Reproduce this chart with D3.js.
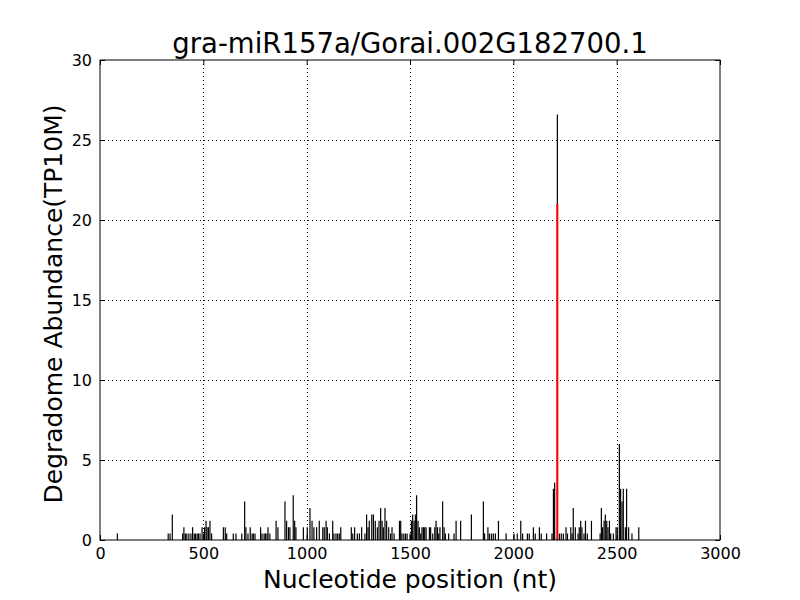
<!DOCTYPE html>
<html>
<head>
<meta charset="utf-8">
<script src="https://cdn.jsdelivr.net/npm/d3@7"></script>
<style>
  html, body { margin: 0; padding: 0; background: #fff; }
  text { font-family: "DejaVu Sans", sans-serif; }
</style>
</head>
<body>
<svg id="chart" width="800" height="600"></svg>
<script>
const titleText = "gra-miR157a/Gorai.002G182700.1";
const xLabel = "Nucleotide position (nt)";
const yLabel = "Degradome Abundance(TP10M)";
const xTicks = [0, 500, 1000, 1500, 2000, 2500, 3000];
const yTicks = [0, 5, 10, 15, 20, 25, 30];

const positions = [84,
  330, 339, 350,
  400, 406, 413, 420, 430, 440, 448, 456, 462, 470, 476, 484, 494, 502, 506, 513, 518, 525, 532, 540,
  597, 606, 613, 645, 658,
  686, 700, 706, 716, 727, 736, 742, 750, 777, 784, 794, 800, 808, 813, 822, 852, 861, 895, 903, 912, 919, 935, 942, 948, 984, 1003, 1016, 1026, 1035, 1048, 1061,
  1078, 1085, 1094, 1100, 1110, 1126, 1132, 1142, 1150, 1158, 1165, 1216, 1223, 1232, 1245, 1255, 1266, 1282, 1290, 1297, 1303, 1315, 1323, 1332, 1342, 1350, 1358, 1365, 1371, 1379, 1387, 1397, 1406, 1413, 1423, 1449,
  1455, 1461, 1470, 1478, 1486, 1500, 1507, 1513, 1520, 1526, 1532, 1539, 1545, 1552, 1558, 1565, 1571, 1578, 1594, 1600, 1610, 1620, 1626, 1633, 1639, 1645, 1658, 1665, 1671, 1687, 1713, 1723, 1745, 1797,
  1855, 1861, 1877, 1884, 1894, 1903, 1913, 1928, 1965, 2003, 2019, 2036, 2045, 2068, 2077, 2097, 2106, 2126, 2135, 2161, 2187, 2194, 2200,
  2213,
  2223, 2232, 2242, 2255, 2262, 2278, 2284, 2290, 2300, 2313, 2319, 2326, 2332, 2342, 2349, 2358, 2378, 2420, 2426, 2432, 2439, 2445, 2452, 2458, 2465, 2471, 2484, 2497, 2503, 2513, 2519, 2526, 2532, 2542, 2548, 2558, 2574, 2607];

const abundance = [0.4,
  0.4, 0.4, 1.6,
  0.4, 0.8, 0.4, 0.4, 0.4, 0.4, 0.8, 0.4, 0.4, 0.4, 0.4, 0.4, 0.8, 0.4, 0.8, 1.2, 0.8, 0.8, 1.2, 0.4,
  0.8, 0.8, 0.4, 0.4, 0.4,
  0.4, 2.4, 0.8, 0.4, 0.8, 0.4, 0.4, 0.4, 0.8, 0.4, 0.4, 0.4, 0.4, 0.8, 0.4, 1.2, 0.8, 2.4, 1.2, 0.8, 0.8, 2.8, 1.2, 0.8, 0.8, 0.8, 2.0, 1.2, 0.8, 0.8, 1.2,
  0.8, 0.8, 1.2, 0.8, 0.4, 1.2, 0.4, 0.4, 0.4, 0.4, 0.8, 0.8, 0.4, 0.8, 0.4, 0.4, 0.8, 0.4, 1.6, 0.8, 1.2, 1.6, 1.6, 1.2, 0.8, 1.2, 2.0, 1.2, 0.8, 2.0, 1.2, 0.8, 0.4, 0.8, 0.4, 1.2,
  1.2, 0.4, 0.4, 0.4, 0.4, 0.4, 1.2, 1.6, 1.2, 1.6, 2.8, 1.2, 0.8, 0.4, 0.8, 0.8, 0.8, 0.8, 0.8, 0.8, 0.4, 0.8, 1.2, 0.8, 0.4, 0.8, 2.4, 0.8, 0.4, 0.4, 0.4, 1.2, 1.2, 1.6,
  2.4, 0.4, 0.8, 0.4, 0.4, 0.4, 0.4, 1.2, 0.4, 0.4, 0.4, 1.2, 0.4, 0.4, 0.4, 0.8, 0.4, 0.8, 0.4, 0.4, 0.4, 3.2, 3.6,
  26.6,
  0.4, 0.4, 0.4, 0.8, 0.4, 0.8, 0.4, 2.0, 0.8, 0.4, 0.8, 1.2, 0.8, 0.4, 1.2, 0.4, 1.2, 0.4, 2.0, 0.8, 1.2, 1.6, 1.2, 0.8, 1.2, 0.4, 0.4, 0.8, 0.8, 6.0, 3.2, 2.4, 3.2, 0.8, 3.2, 0.8, 0.4, 0.8];

const cleavagePos = [2213];
const cleavageVal = [21.0];

const svg = d3.select("#chart");
const margin = {left: 100, right: 80, top: 60, bottom: 60};
const W = 800, H = 600;
const x = d3.scaleLinear().domain([0, 3000]).range([margin.left, W - margin.right]);
const y = d3.scaleLinear().domain([0, 30]).range([H - margin.bottom, margin.top]);

// grid
const grid = svg.append("g");
grid.selectAll(".vg").data(xTicks.slice(1, -1)).enter().append("line")
  .attr("x1", d => Math.round(x(d)) + 0.5).attr("x2", d => Math.round(x(d)) + 0.5)
  .attr("y1", y(30)).attr("y2", y(0))
  .attr("stroke", "#000").attr("stroke-width", 1).attr("stroke-dasharray", "1,3");
grid.selectAll(".hg").data(yTicks.slice(1, -1)).enter().append("line")
  .attr("y1", d => Math.round(y(d)) + 0.5).attr("y2", d => Math.round(y(d)) + 0.5)
  .attr("x1", x(0)).attr("x2", x(3000))
  .attr("stroke", "#000").attr("stroke-width", 1).attr("stroke-dasharray", "1,3");

// bars
const data = positions.map((p, i) => ({p, v: abundance[i]}));
svg.append("g").selectAll("line").data(data).enter().append("line")
  .attr("x1", d => x(d.p)).attr("x2", d => x(d.p))
  .attr("y1", y(0)).attr("y2", d => y(d.v))
  .attr("stroke", "#000").attr("stroke-width", 1.2);

svg.append("g").selectAll("line").data(cleavagePos.map((p, i) => ({p, v: cleavageVal[i]}))).enter().append("line")
  .attr("x1", d => x(d.p)).attr("x2", d => x(d.p))
  .attr("y1", y(0)).attr("y2", d => y(d.v))
  .attr("stroke", "#ff0000").attr("stroke-width", 2);

// axes with inward ticks
const axB = svg.append("g").attr("transform", `translate(0,${y(0)})`)
  .call(d3.axisBottom(x).tickValues(xTicks).tickFormat(d3.format("d")).tickSizeInner(-5).tickSizeOuter(0).tickPadding(8));
const axT = svg.append("g").attr("transform", `translate(0,${y(30)})`)
  .call(d3.axisTop(x).tickValues(xTicks).tickFormat("").tickSizeInner(-5).tickSizeOuter(0));
const axL = svg.append("g").attr("transform", `translate(${x(0)},0)`)
  .call(d3.axisLeft(y).tickValues(yTicks).tickSizeInner(-5).tickSizeOuter(0).tickPadding(8));
const axR = svg.append("g").attr("transform", `translate(${x(3000)},0)`)
  .call(d3.axisRight(y).tickValues(yTicks).tickFormat("").tickSizeInner(-5).tickSizeOuter(0));
[axB, axT, axL, axR].forEach(g => {
  g.select(".domain").remove();
  g.selectAll("line").attr("stroke", "#000");
  g.selectAll("text").attr("fill", "#000").style("font-size", "16px").style("font-family", "DejaVu Sans");
});

svg.append("rect").attr("x", x(0)).attr("y", y(30))
  .attr("width", x(3000) - x(0)).attr("height", y(0) - y(30))
  .attr("fill", "none").attr("stroke", "#000").attr("stroke-width", 1);

svg.append("text").attr("x", 410).attr("y", 53).attr("text-anchor", "middle")
  .style("font-size", "27.5px").text(titleText);
svg.append("text").attr("x", 410).attr("y", 588).attr("text-anchor", "middle")
  .style("font-size", "25px").text(xLabel);
svg.append("text").attr("transform", "translate(62,304) rotate(-90)").attr("text-anchor", "middle")
  .style("font-size", "25px").text(yLabel);
</script>
</body>
</html>
